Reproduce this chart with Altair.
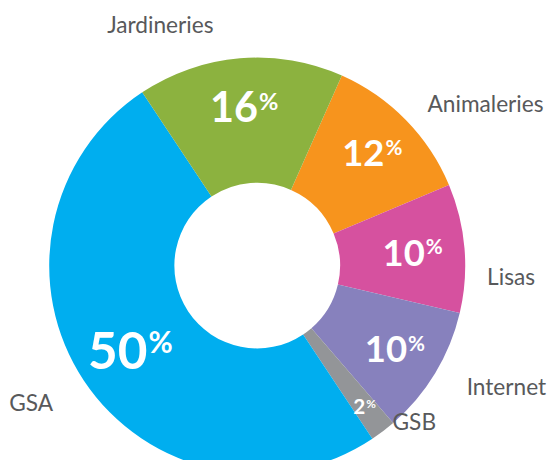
import math
import altair as alt
import pandas as pd

# ---- data ----
categories = ["Animaleries", "Lisas", "Internet", "GSB", "GSA", "Jardineries"]
values = [12, 10, 10, 2, 50, 16]
colors = ["#F7941D", "#D6519F", "#8781BD", "#939598", "#00AEEF", "#8CB23F"]

df = pd.DataFrame({"cat": categories, "value": values, "order": list(range(len(categories)))})

# ---- layout / style ----
START = math.radians(24)
theta_scale = alt.Scale(domain=[0, 100], range=[START, START + 2 * math.pi])
CX, CY = 253, 258
INNER, OUTER = 84, 211

# inner label style: font size, radius
inner_style = {
    "Animaleries": (37, 163),
    "Lisas": (37, 158),
    "Internet": (37, 163),
    "GSB": (21, 180),
    "GSA": (52, 155),
    "Jardineries": (42, 161),
}
# outer label style: align, dx, dy
outer_style = {
    "Animaleries": ("left", 7, 0),
    "Lisas": ("left", 2, 32),
    "Internet": ("left", 14, 4),
    "GSB": ("left", -3, -25),
    "GSA": ("right", -14, 12),
    "Jardineries": ("center", -79, -12),
}
OUTER_R = 232

base = (
    alt.Chart(df)
    .transform_stack(stack="value", as_=["v0", "v1"], groupby=[], sort=[alt.SortField("order")])
    .transform_calculate(mid="(datum.v0 + datum.v1) / 2")
)

arcs = base.mark_arc(innerRadius=INNER, outerRadius=OUTER).encode(
    theta=alt.Theta("v0:Q", scale=theta_scale, stack=False),
    theta2="v1",
    color=alt.Color("cat:N", scale=alt.Scale(domain=categories, range=colors), legend=None),
    x=alt.value(CX),
    y=alt.value(CY),
)

layers = [arcs]
for c, v in zip(categories, values):
    fs, r = inner_style[c]
    fsp = round(fs * 0.57)
    gap = 1
    wn = 0.58 * fs * len(str(v))
    wp = 0.8 * fsp + gap
    dxn = (wn - wp) / 2
    sub = base.transform_filter(alt.datum.cat == c)
    enc = dict(
        theta=alt.Theta("mid:Q", scale=theta_scale, stack=False),
        x=alt.value(CX),
        y=alt.value(CY),
    )
    num = sub.mark_text(
        radius=r, font="Lato", fontWeight="bold", fontSize=fs, color="white",
        align="right", baseline="alphabetic", dx=dxn, dy=0.36 * fs,
    ).encode(text=alt.Text("value:Q"), **enc)
    pct = sub.mark_text(
        radius=r, font="Lato", fontWeight="bold", fontSize=fsp, color="white",
        align="left", baseline="alphabetic", dx=dxn + gap, dy=-0.36 * fs + 0.72 * fsp,
    ).encode(text=alt.value("%"), **enc)
    al, dx, dy = outer_style[c]
    out = sub.mark_text(
        radius=OUTER_R, font="Lato", fontSize=23, color="#58595B",
        align=al, baseline="middle", dx=dx, dy=dy,
    ).encode(text=alt.Text("cat:N"), **enc)
    layers += [num, pct, out]

chart = alt.layer(*layers).properties(
    width=548, height=452, autosize=alt.AutoSizeParams(type="none"), padding=0
).configure_view(stroke=None)

chart.save("out.html", embed_options={"renderer": "svg", "actions": False})
